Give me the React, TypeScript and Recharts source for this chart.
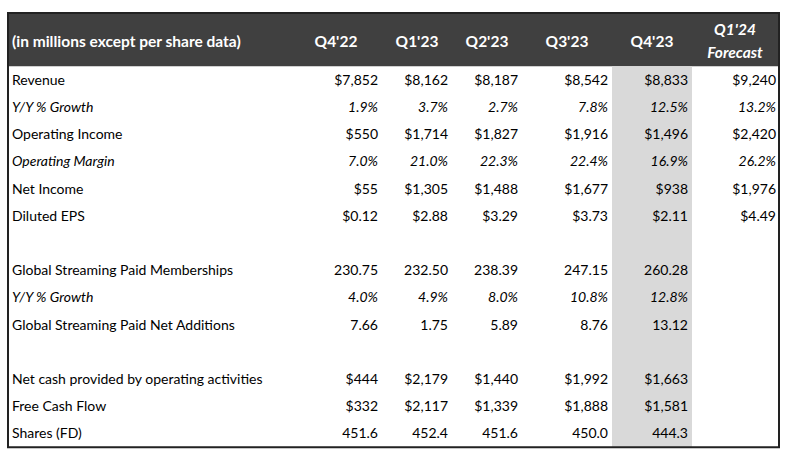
import { ScatterChart, Scatter, XAxis, YAxis, ReferenceArea } from 'recharts';

// ─── Data ─────────────────────────────────────────────────────────────────────

const headerTitle = '(in millions except per share data)';
const quarters = ["Q4'22", "Q1'23", "Q2'23", "Q3'23", "Q4'23", "Q1'24"];

const revenue = [7852, 8162, 8187, 8542, 8833, 9240];
const revenueGrowth = [1.9, 3.7, 2.7, 7.8, 12.5, 13.2];
const operatingIncome = [550, 1714, 1827, 1916, 1496, 2420];
const operatingMargin = [7.0, 21.0, 22.3, 22.4, 16.9, 26.2];
const netIncome = [55, 1305, 1488, 1677, 938, 1976];
const dilutedEps = [0.12, 2.88, 3.29, 3.73, 2.11, 4.49];
const paidMemberships = [230.75, 232.5, 238.39, 247.15, 260.28];
const membershipGrowth = [4.0, 4.9, 8.0, 10.8, 12.8];
const paidNetAdditions = [7.66, 1.75, 5.89, 8.76, 13.12];
const operatingCash = [444, 2179, 1440, 1992, 1663];
const freeCashFlow = [332, 2117, 1339, 1888, 1581];
const sharesFD = [451.6, 452.4, 451.6, 450.0, 444.3];

// ─── Layout ───────────────────────────────────────────────────────────────────

const W = 787;
const H = 455;
const FONT = 'Lato, "Open Sans", sans-serif';
const LABEL_X = 12;
const COL_RIGHT = [378, 448, 518, 608, 688, 776];
const COL_CENTER = [336, 417, 487, 567, 652, 735];
const TABLE_LEFT = 8;
const TABLE_RIGHT = 779;
const TOP_ROW = -2.46; // table top in row units
const BOTTOM_ROW = 13.5;
const HEADER_ROW = -1.4;
const HIGHLIGHT_COL = 4;

const money = (v: number) => '$' + v.toLocaleString('en-US');
const pct = (v: number) => v.toFixed(1) + '%';
const cents = (v: number) => '$' + v.toFixed(2);
const dec2 = (v: number) => v.toFixed(2);
const dec1 = (v: number) => v.toFixed(1);

const rows = [
  { row: 0, label: 'Revenue', values: revenue, fmt: money, italic: false },
  { row: 1, label: 'Y/Y % Growth', values: revenueGrowth, fmt: pct, italic: true },
  { row: 2, label: 'Operating Income', values: operatingIncome, fmt: money, italic: false },
  { row: 3, label: 'Operating Margin', values: operatingMargin, fmt: pct, italic: true },
  { row: 4, label: 'Net Income', values: netIncome, fmt: money, italic: false },
  { row: 5, label: 'Diluted EPS', values: dilutedEps, fmt: cents, italic: false },
  { row: 7, label: 'Global Streaming Paid Memberships', values: paidMemberships, fmt: dec2, italic: false },
  { row: 8, label: 'Y/Y % Growth', values: membershipGrowth, fmt: pct, italic: true },
  { row: 9, label: 'Global Streaming Paid Net Additions', values: paidNetAdditions, fmt: dec2, italic: false },
  { row: 11, label: 'Net cash provided by operating activities', values: operatingCash, fmt: money, italic: false },
  { row: 12, label: 'Free Cash Flow', values: freeCashFlow, fmt: money, italic: false },
  { row: 13, label: 'Shares (FD)', values: sharesFD, fmt: dec1, italic: false },
];

const labelData = rows.map((r) => ({ x: LABEL_X, y: r.row, text: r.label, italic: r.italic }));

const columnData = COL_RIGHT.map((x, c) =>
  rows
    .filter((r) => r.values[c] !== undefined)
    .map((r) => ({ x, y: r.row, text: r.fmt(r.values[c]), italic: r.italic })),
);

const headerData = [
  { x: LABEL_X, y: HEADER_ROW, text: headerTitle, anchor: 'start', forecast: false },
  ...quarters.map((q, c) => ({
    x: COL_CENTER[c],
    y: HEADER_ROW,
    text: q,
    anchor: 'middle',
    forecast: c === quarters.length - 1,
  })),
];

// ─── Cell renderers ───────────────────────────────────────────────────────────

function CellText(props: any, anchor: 'start' | 'end') {
  const { cx, cy, payload } = props;
  return (
    <text
      x={cx}
      y={cy}
      dy="0.35em"
      textAnchor={anchor}
      fontFamily={FONT}
      fontSize={14}
      fontStyle={payload.italic ? 'italic' : 'normal'}
      fill="#000"
    >
      {payload.text}
    </text>
  );
}

function HeaderText(props: any) {
  const { cx, cy, payload } = props;
  if (payload.forecast) {
    return (
      <text x={cx} y={cy} textAnchor="middle" fontFamily={FONT} fontSize={15.5}
        fontWeight="bold" fontStyle="italic" fill="#fff">
        <tspan x={cx} dy="-0.45em">{payload.text}</tspan>
        <tspan x={cx} dy="1.5em">Forecast</tspan>
      </text>
    );
  }
  return (
    <text x={cx} y={cy} dy="0.35em" textAnchor={payload.anchor} fontFamily={FONT}
      fontSize={15.5} fontWeight="bold" fill="#fff">
      {payload.text}
    </text>
  );
}

// ─── App ──────────────────────────────────────────────────────────────────────

export default function App() {
  return (
    <div style={{ width: W, height: H }}>
      <style>{'body { margin: 0; }'}</style>
      <ScatterChart width={W} height={H} margin={{ top: 13, right: 0, bottom: 7.8, left: 0 }}>
        <XAxis type="number" dataKey="x" domain={[0, W]} hide allowDataOverflow />
        <YAxis type="number" dataKey="y" domain={[TOP_ROW, BOTTOM_ROW]} reversed hide allowDataOverflow />

        {/* Header band */}
        <ReferenceArea x1={TABLE_LEFT} x2={TABLE_RIGHT} y1={TOP_ROW} y2={-0.5}
          fill="#404040" fillOpacity={1} stroke="none" />

        {/* Latest quarter highlight */}
        <ReferenceArea x1={(COL_RIGHT[HIGHLIGHT_COL - 1] + 4)} x2={COL_RIGHT[HIGHLIGHT_COL] + 4}
          y1={-0.5} y2={BOTTOM_ROW} fill="#d9d9d9" fillOpacity={1} stroke="none" />

        {/* Table border */}
        <ReferenceArea x1={TABLE_LEFT} x2={TABLE_RIGHT} y1={TOP_ROW} y2={BOTTOM_ROW}
          fill="none" fillOpacity={0} stroke="#222" strokeWidth={2} />

        <Scatter data={headerData} shape={HeaderText} isAnimationActive={false} />
        <Scatter data={labelData} shape={(p: any) => CellText(p, 'start')} isAnimationActive={false} />
        {columnData.map((data, c) => (
          <Scatter key={c} data={data} shape={(p: any) => CellText(p, 'end')} isAnimationActive={false} />
        ))}
      </ScatterChart>
    </div>
  );
}
